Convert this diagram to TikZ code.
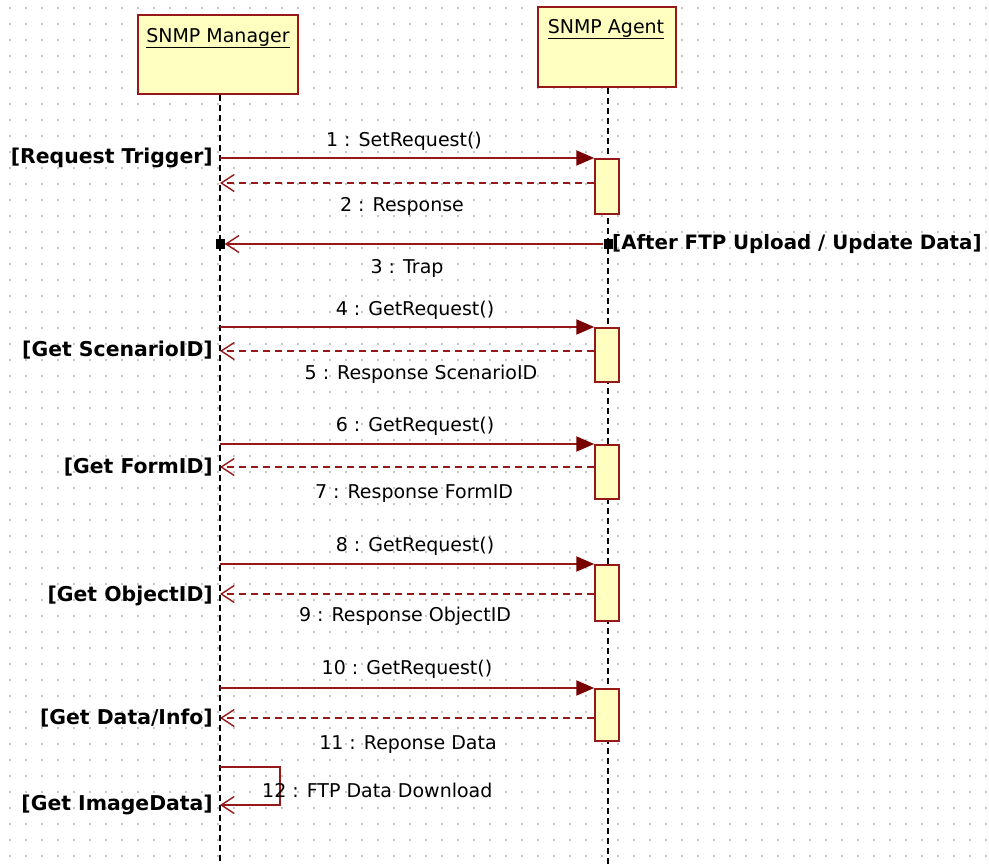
\documentclass[tikz,border=0pt]{standalone}
\usepackage{fontspec}
\setmainfont{DejaVu Sans}
\usetikzlibrary{arrows.meta}
\definecolor{umlred}{RGB}{150,24,24}
\definecolor{umltip}{RGB}{120,0,0}
\definecolor{umlfill}{RGB}{255,255,192}
\definecolor{gridc}{RGB}{198,198,198}
\tikzset{
  headbox/.style={draw=umlred, fill=umlfill, line width=1.5pt, inner sep=0pt},
  headtext/.style={font=\fontsize{19}{22}\selectfont, inner sep=0pt},
  actbox/.style={draw=umlred, fill=umlfill, line width=1.5pt, inner sep=0pt,
                 minimum width=24pt},
  lifeline/.style={draw=black, line width=1.5pt, dash pattern=on 6pt off 4pt},
  callmsg/.style={draw=umlred, line width=2pt,
                  -{Triangle[length=18pt,width=15pt,fill=umltip,color=umltip]}},
  replymsg/.style={draw=umlred, line width=1.6pt, dash pattern=on 7pt off 5pt,
                   -{Straight Barb[length=13pt,width=17pt,line width=1.4pt]}},
  signalmsg/.style={draw=umlred, line width=2pt,
                    -{Straight Barb[length=13pt,width=17pt,line width=1.4pt]}},
  selfmsg/.style={draw=umlred, line width=1.6pt,
                  -{Straight Barb[length=13pt,width=17pt,line width=1.4pt]}},
  msglabel/.style={font=\fontsize{19}{22}\selectfont, inner sep=0pt},
  guard/.style={font=\fontsize{20.4}{22}\selectfont\bfseries, inner sep=0pt},
  endmark/.style={fill=black, inner sep=0pt, minimum width=9pt, minimum height=10pt},
}
\begin{document}
\begin{tikzpicture}[x=1pt, y=-1pt]
  \useasboundingbox (0,0) rectangle (989,865);

  % dotted drawing grid
  \foreach \i in {0,...,61}{
    \foreach \j in {0,...,53}{
      \fill[gridc] ({9+16*\i},{7+16*\j}) rectangle ++(2,2);
    }
  }

  % participants
  \node[headbox, minimum width=160pt, minimum height=79pt] (mgr) at (218,54.5) {};
  \node[headtext] (mgrname) at (218,38) {\underline{SNMP Manager}};
  \node[headbox, minimum width=138pt, minimum height=80pt] (agt) at (607,47) {};
  \node[headtext] (agtname) at (606,29) {\underline{SNMP Agent}};

  % lifelines
  \coordinate (mgrend) at (220,865);
  \coordinate (agtend) at (608,865);
  \draw[lifeline] (mgr.south -| mgrend) -- (mgrend);
  \draw[lifeline] (agt.south -| agtend) -- (agtend);

  % activation bars on the agent
  \node[actbox, minimum height=55pt] (act1) at (607,186.5) {};
  \node[actbox, minimum height=54pt] (act2) at (607,355) {};
  \node[actbox, minimum height=54pt] (act3) at (607,472) {};
  \node[actbox, minimum height=56pt] (act4) at (607,593) {};
  \node[actbox, minimum height=52pt] (act5) at (607,715) {};

  % points on the manager lifeline
  \coordinate (m1) at (220,158);
  \coordinate (m2) at (220,183);
  \coordinate (m4) at (220,327);
  \coordinate (m5) at (220,351);
  \coordinate (m6) at (220,444);
  \coordinate (m7) at (220,467);
  \coordinate (m8) at (220,564);
  \coordinate (m9) at (220,594);
  \coordinate (m10) at (220,688);
  \coordinate (m11) at (220,718);
  \coordinate (s12a) at (220,767);
  \coordinate (s12b) at (220,805);

  % messages
  \draw[callmsg] (m1) -- (act1.west |- m1);
  \draw[replymsg] (act1.west |- m2) -- (m2);

  \node[endmark] (trapsrc) at (608,244) {};
  \node[endmark] (trapdst) at (220,244) {};
  \draw[signalmsg] (trapsrc.west) -- (trapdst.east);

  \draw[callmsg] (m4) -- (act2.west |- m4);
  \draw[replymsg] (act2.west |- m5) -- (m5);
  \draw[callmsg] (m6) -- (act3.west |- m6);
  \draw[replymsg] (act3.west |- m7) -- (m7);
  \draw[callmsg] (m8) -- (act4.west |- m8);
  \draw[replymsg] (act4.west |- m9) -- (m9);
  \draw[callmsg] (m10) -- (act5.west |- m10);
  \draw[replymsg] (act5.west |- m11) -- (m11);
  \draw[selfmsg] (s12a) -- ++(60,0) |- (s12b);

  % message labels
  \node[msglabel] (l1) at (404,141) {1 : SetRequest()};
  \node[msglabel] (l2) at (402,206) {2 : Response};
  \node[msglabel] (l3) at (407,268) {3 : Trap};
  \node[msglabel] (l4) at (415,310) {4 : GetRequest()};
  \node[msglabel] (l5) at (421,374) {5 : Response ScenarioID};
  \node[msglabel] (l6) at (415,426) {6 : GetRequest()};
  \node[msglabel] (l7) at (414,494) {7 : Response FormID};
  \node[msglabel] (l8) at (415,546) {8 : GetRequest()};
  \node[msglabel] (l9) at (405,616) {9 : Response ObjectID};
  \node[msglabel] (l10) at (407,669) {10 : GetRequest()};
  \node[msglabel] (l11) at (408,745) {11 : Reponse Data};
  \node[msglabel, anchor=west] (l12) at (262,790) {12 : FTP Data Download};

  % guard conditions
  \node[guard, anchor=east] (g1) at (213,158) {[Request Trigger]};
  \node[guard, anchor=west, font=\fontsize{19.8}{22}\selectfont\bfseries]
    (g3) at (612,244) {[After FTP Upload / Update Data]};
  \node[guard, anchor=east] (g5) at (213,350) {[Get ScenarioID]};
  \node[guard, anchor=east] (g7) at (213,467) {[Get FormID]};
  \node[guard, anchor=east] (g9) at (213,596) {[Get ObjectID]};
  \node[guard, anchor=east] (g11) at (213,718) {[Get Data/Info]};
  \node[guard, anchor=east] (g12) at (213,805) {[Get ImageData]};
\end{tikzpicture}
\end{document}
